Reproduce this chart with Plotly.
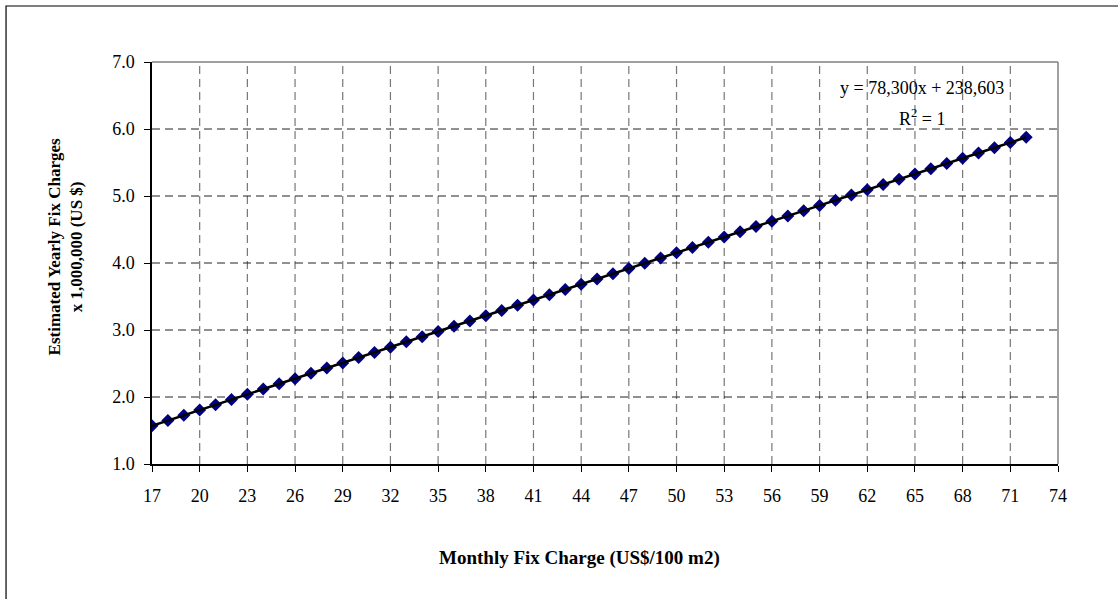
import plotly.graph_objects as go

# Monthly fix charge (US$/100 m2) and estimated yearly fix charges (x 1,000,000 US$)
monthly_charge = list(range(17, 73))
yearly_charges = [
    1.570, 1.648, 1.726, 1.805, 1.883, 1.961, 2.040, 2.118, 2.196, 2.274,
    2.353, 2.431, 2.509, 2.588, 2.666, 2.744, 2.823, 2.901, 2.979, 3.057,
    3.136, 3.214, 3.292, 3.371, 3.449, 3.527, 3.606, 3.684, 3.762, 3.840,
    3.919, 3.997, 4.075, 4.154, 4.232, 4.310, 4.389, 4.467, 4.545, 4.623,
    4.702, 4.780, 4.858, 4.937, 5.015, 5.093, 5.172, 5.250, 5.328, 5.406,
    5.485, 5.563, 5.641, 5.720, 5.798, 5.876,
]
x_ticks = list(range(17, 75, 3))
y_ticks = [1, 2, 3, 4, 5, 6, 7]
trend_text = "y = 78,300x + 238,603"
r2_text = "R<sup>2</sup> = 1"

FONT = "Liberation Serif, Times New Roman, serif"

fig = go.Figure()

# data points
fig.add_trace(go.Scatter(
    x=monthly_charge, y=yearly_charges, mode="markers",
    marker=dict(symbol="diamond", size=10, color="#000080",
                line=dict(width=0)),
    showlegend=False, hoverinfo="x+y",
))
# linear trendline
fig.add_trace(go.Scatter(
    x=monthly_charge, y=yearly_charges, mode="lines",
    line=dict(color="black", width=2.5),
    showlegend=False, hoverinfo="skip",
))

# dashed grid
for xv in x_ticks[1:-1]:
    fig.add_shape(type="line", xref="x", yref="y", x0=xv, x1=xv, y0=1, y1=7,
                  line=dict(color="#777777", width=1.2, dash="8px,5px"),
                  layer="below")
for yv in y_ticks[1:-1]:
    fig.add_shape(type="line", xref="x", yref="y", x0=17, x1=74, y0=yv, y1=yv,
                  line=dict(color="#222222", width=1, dash="8px,5px"),
                  layer="below")

# plot-area frame (top and right in gray)
fig.add_shape(type="line", xref="paper", yref="paper", x0=0, x1=1, y0=1, y1=1,
              line=dict(color="#808080", width=1.5))
fig.add_shape(type="line", xref="paper", yref="paper", x0=1, x1=1, y0=0, y1=1,
              line=dict(color="#808080", width=1.5))

# chart-area border
fig.add_shape(type="rect", xref="paper", yref="paper",
              x0=-0.1611, x1=1.2, y0=-0.4, y1=1.1393,
              line=dict(color="black", width=1.2), fillcolor="rgba(0,0,0,0)")

fig.add_annotation(x=0.85, y=0.935, xref="paper", yref="paper",
                   xanchor="center", yanchor="middle",
                   text=trend_text, showarrow=False,
                   font=dict(family=FONT, size=18, color="black"))
fig.add_annotation(x=0.85, y=0.861, xref="paper", yref="paper",
                   xanchor="center", yanchor="middle",
                   text=r2_text, showarrow=False,
                   font=dict(family=FONT, size=18, color="black"))

# axis titles
fig.add_annotation(x=0.4724, y=-0.234, xref="paper", yref="paper",
                   xanchor="center", yanchor="middle",
                   text="<b>Monthly Fix Charge (US$/100 m2)</b>", showarrow=False,
                   font=dict(family=FONT, size=19, color="black"))
fig.add_annotation(x=-0.0955, y=0.54, xref="paper", yref="paper",
                   xanchor="center", yanchor="middle",
                   text="<b>Estimated Yearly Fix Charges<br>x 1,000,000 (US $)</b>",
                   showarrow=False, textangle=-90,
                   font=dict(family=FONT, size=17, color="black"))

fig.update_xaxes(
    range=[17, 74], tickvals=x_ticks, ticktext=[str(v) for v in x_ticks],
    showgrid=False, zeroline=False, showline=True, linecolor="black",
    linewidth=1.5, ticks="outside", ticklen=6, tickcolor="black",
    ticklabelstandoff=9,
    tickfont=dict(family=FONT, size=18, color="black"),
)
fig.update_yaxes(
    range=[1, 7], tickvals=y_ticks, ticktext=[f"{v:.1f}" for v in y_ticks],
    showgrid=False, zeroline=False, showline=True, linecolor="black",
    linewidth=1.5, ticks="outside", ticklen=6, tickcolor="black",
    ticklabelstandoff=6,
    tickfont=dict(family=FONT, size=18, color="black"),
)

fig.update_layout(
    width=1118, height=599,
    margin=dict(l=152, r=60, t=62, b=135),
    paper_bgcolor="white", plot_bgcolor="white",
    font=dict(family=FONT, color="black"),
)

fig.write_html("out.html")
